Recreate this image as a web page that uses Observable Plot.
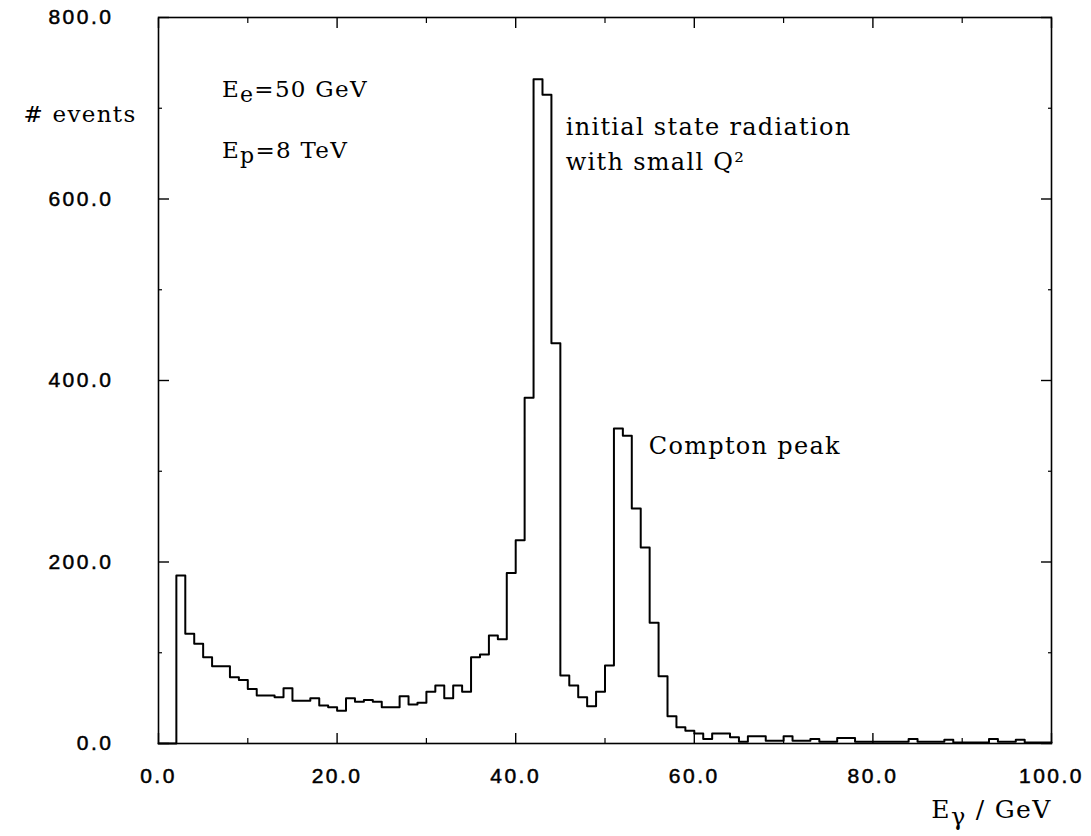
<!DOCTYPE html>
<html>
<head>
<meta charset="utf-8">
<script src="https://cdn.jsdelivr.net/npm/d3@7"></script>
<script src="https://cdn.jsdelivr.net/npm/@observablehq/plot@0.6"></script>
<style>
  html, body { margin: 0; padding: 0; background: #fff; }
  #chart { width: 1091px; height: 836px; }
</style>
</head>
<body>
<div id="chart"></div>
<script>
// ---- data (1 GeV bins, lower edges 0..99) ----
const binWidth = 1;
const counts = [
  0, 0, 185, 121, 110, 95, 85, 85, 73, 70,
  60, 53, 53, 51, 61, 47, 47, 50, 42, 40,
  36, 50, 46, 48, 46, 40, 40, 52, 43, 45,
  57, 64, 50, 64, 57, 95, 98, 119, 115, 188,
  224, 381, 732, 715, 441, 75, 64, 51, 41, 57,
  86, 347, 339, 259, 216, 133, 74, 30, 18, 14,
  11, 5, 11, 11, 7, 2, 8, 8, 3, 3,
  8, 3, 3, 5, 2, 2, 6, 6, 2, 2,
  2, 2, 2, 2, 5, 2, 2, 2, 4, 1,
  1, 1, 1, 5, 2, 2, 4, 1, 1, 1
];
const xMajorTicks = [0, 20, 40, 60, 80, 100];
const xMinorTicks = [10, 30, 50, 70, 90];
const yMajorTicks = [0, 200, 400, 600, 800];
const yMinorTicks = [100, 300, 500, 700];
const xTickLabels = ["0.0", "20.0", "40.0", "60.0", "80.0", "100.0"];
const yTickLabels = ["0.0", "200.0", "400.0", "600.0", "800.0"];
const annotations = ["initial state radiation", "with small Q²", "Compton peak", "Ee=50 GeV", "Ep=8 TeV"];

// step outline: each bin's lower edge, plus the final upper edge
const steps = counts.map((c, i) => ({x: i * binWidth, y: c}))
  .concat([{x: counts.length * binWidth, y: counts[counts.length - 1]}]);

const serif = "DejaVu Serif";
const sans = "Liberation Sans";

const plot = Plot.plot({
  width: 1091,
  height: 836,
  marginLeft: 158,
  marginRight: 40,
  marginTop: 17,
  marginBottom: 93,
  x: {domain: [0, 100]},
  y: {domain: [0, 800]},
  style: {background: "#fff", color: "#000", overflow: "visible"},
  marks: [
    Plot.frame({stroke: "#000", strokeWidth: 1.6}),
    // inward ticks, all four sides
    Plot.axisX(xMajorTicks, {anchor: "bottom", tickSize: -10, fill: "none", label: null, strokeWidth: 1.4}),
    Plot.axisX(xMinorTicks, {anchor: "bottom", tickSize: -5, fill: "none", label: null, strokeWidth: 1.2}),
    Plot.axisX(xMajorTicks, {anchor: "top", tickSize: -10, fill: "none", label: null, strokeWidth: 1.4}),
    Plot.axisX(xMinorTicks, {anchor: "top", tickSize: -5, fill: "none", label: null, strokeWidth: 1.2}),
    Plot.axisY(yMajorTicks, {anchor: "left", tickSize: -11, fill: "none", label: null, strokeWidth: 1.4}),
    Plot.axisY(yMinorTicks, {anchor: "left", tickSize: -4, fill: "none", label: null, strokeWidth: 1.2}),
    Plot.axisY(yMajorTicks, {anchor: "right", tickSize: -11, fill: "none", label: null, strokeWidth: 1.4}),
    Plot.axisY(yMinorTicks, {anchor: "right", tickSize: -4, fill: "none", label: null, strokeWidth: 1.2}),
    // tick labels
    Plot.axisX(xMajorTicks, {anchor: "bottom", tickSize: 0, tickPadding: 25, label: null,
      tickFormat: d => xTickLabels[xMajorTicks.indexOf(d)], fontSize: 21, fontFamily: sans}),
    Plot.axisY(yMajorTicks, {anchor: "left", tickSize: 0, tickPadding: 45, label: null,
      tickFormat: d => yTickLabels[yMajorTicks.indexOf(d)], fontSize: 21, fontFamily: sans}),
    // histogram outline
    Plot.line(steps, {x: "x", y: "y", curve: "step-after", stroke: "#000", strokeWidth: 2}),
    // annotations
    Plot.text([annotations[0]], {x: () => 45.6, y: () => 679, text: d => d, textAnchor: "start", fontFamily: serif, fontSize: 24}),
    Plot.text([annotations[1]], {x: () => 45.6, y: () => 640, text: d => d, textAnchor: "start", fontFamily: serif, fontSize: 24}),
    Plot.text([annotations[2]], {x: () => 54.9, y: () => 328, text: d => d, textAnchor: "start", fontFamily: serif, fontSize: 24}),
    Plot.text([annotations[3]], {x: () => 7.1, y: () => 720, text: d => d, textAnchor: "start", fontFamily: serif, fontSize: 23}),
    Plot.text([annotations[4]], {x: () => 7.1, y: () => 653, text: d => d, textAnchor: "start", fontFamily: serif, fontSize: 23}),
    // axis titles
    Plot.text(["# events"], {frameAnchor: "top-left", dx: -22, dy: 88, text: d => d, textAnchor: "end", fontFamily: serif, fontSize: 23}),
    Plot.text(["Eγ / GeV"], {frameAnchor: "bottom-right", dx: 0, dy: 74, text: d => d, textAnchor: "end", fontFamily: serif, fontSize: 25})
  ]
});

const svg = d3.select(plot);
svg.selectAll("g[aria-label='x-axis tick label'], g[aria-label='y-axis tick label']")
  .attr("font-size", 21)
  .attr("font-family", sans)
  .attr("stroke", "#000")
  .attr("stroke-width", 0.5);
svg.selectAll("g[aria-label='x-axis tick label'] text, g[aria-label='y-axis tick label'] text")
  .attr("letter-spacing", "2.5px");
svg.selectAll("g[aria-label='text'] text").attr("letter-spacing", "1.3px");

function subscriptify(base, sub, rest, shift, subSize) {
  svg.selectAll("text").filter(function() { return this.textContent === base + sub + rest; })
    .each(function() {
      const t = d3.select(this);
      t.text(null);
      t.append("tspan").text(base);
      const s = t.append("tspan").attr("dy", shift).text(sub);
      if (subSize) s.attr("font-size", subSize);
      t.append("tspan").attr("dy", -shift).text(rest);
    });
}
subscriptify("E", "e", "=50 GeV", 5, 22);
subscriptify("E", "p", "=8 TeV", 5, 22);
subscriptify("E", "γ", " / GeV", 7, 24);

document.getElementById("chart").appendChild(plot);
</script>
</body>
</html>
